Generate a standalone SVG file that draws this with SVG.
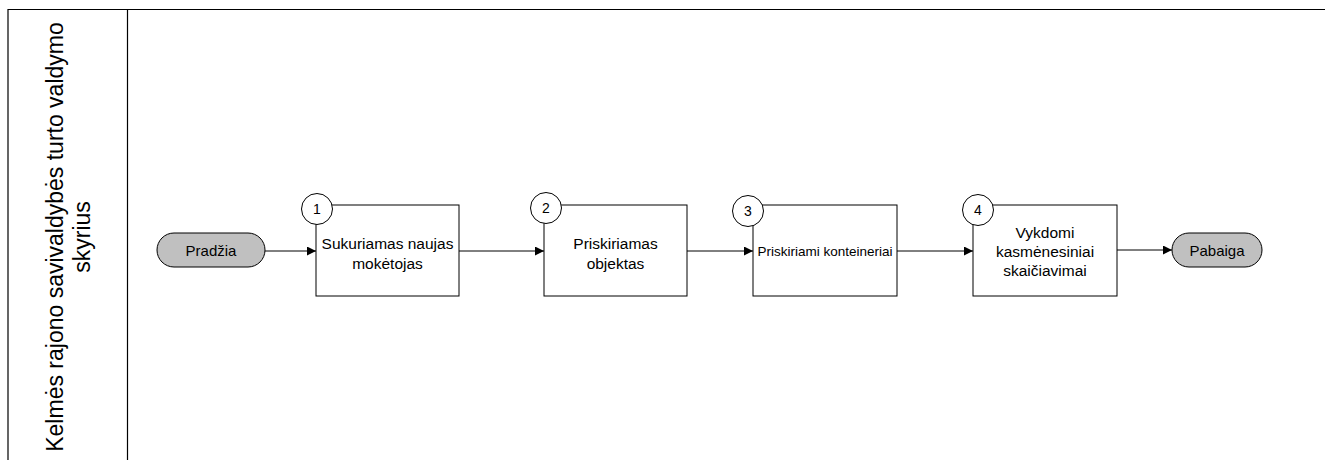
<svg xmlns="http://www.w3.org/2000/svg" width="1325" height="460" viewBox="0 0 1325 460">
<style>
.lane{fill:none;stroke:#000;stroke-width:1.2}
.box{fill:#fff;stroke:#000;stroke-width:1}
.term{fill:#c0c0c0;stroke:#000;stroke-width:1}
.num{fill:#fff;stroke:#000;stroke-width:1}
.t{font-family:"Liberation Sans",Arial,sans-serif;font-size:15.5px;fill:#000;text-anchor:middle}
.tt{font-family:"Liberation Sans",Arial,sans-serif;font-size:15px;fill:#000;text-anchor:middle}
.tn{font-family:"Liberation Sans",Arial,sans-serif;font-size:14px;fill:#000;text-anchor:middle}
.ts{font-family:"Liberation Sans",Arial,sans-serif;font-size:13.5px;fill:#000;text-anchor:middle}
.tl{font-family:"Liberation Sans",Arial,sans-serif;font-size:23px;fill:#000;text-anchor:middle}
.c{fill:none;stroke:#000;stroke-width:1;marker-end:url(#ah)}
</style>
<defs>
<marker id="ah" markerWidth="10" markerHeight="10" refX="9" refY="4.5" orient="auto" markerUnits="userSpaceOnUse">
<path d="M0,0 L9,4.5 L0,9 Z" fill="#000"/>
</marker>
</defs>
<rect width="1325" height="460" fill="#fff"/>
<g id="lane">
<path class="lane" d="M8,460 L8,9.5 L1325,9.5"/>
<line class="lane" x1="127.5" y1="9.5" x2="127.5" y2="460"/>
<text class="tl" transform="translate(63,237) rotate(-90)"><tspan x="0" y="0">Kelmės rajono savivaldybės turto valdymo</tspan><tspan x="0" y="27">skyrius</tspan></text>
</g>
<g id="connectors">
<line class="c" x1="265" y1="251" x2="316" y2="251"/>
<line class="c" x1="459" y1="251" x2="544" y2="251"/>
<line class="c" x1="687" y1="251" x2="753" y2="251"/>
<line class="c" x1="897" y1="251" x2="973" y2="251"/>
<line class="c" x1="1117" y1="250" x2="1172" y2="250"/>
</g>
<g id="start">
<rect class="term" x="157" y="233" width="108" height="34" rx="17"/>
<text class="tt" x="211" y="256">Pradžia</text>
</g>
<g id="task1">
<rect class="box" x="316" y="205" width="143" height="91"/>
<text class="t" x="387.5" y="249">Sukuriamas naujas</text>
<text class="t" x="387.5" y="269">mokėtojas</text>
<circle class="num" cx="317" cy="209" r="15.5"/>
<text class="tn" x="317" y="214">1</text>
</g>
<g id="task2">
<rect class="box" x="544" y="205" width="143" height="91"/>
<text class="t" x="615.5" y="249">Priskiriamas</text>
<text class="t" x="615.5" y="269">objektas</text>
<circle class="num" cx="546" cy="208" r="15.5"/>
<text class="tn" x="546" y="213">2</text>
</g>
<g id="task3">
<rect class="box" x="753" y="205" width="144" height="91"/>
<text class="ts" x="825" y="256">Priskiriami konteineriai</text>
<circle class="num" cx="748" cy="211" r="15.5"/>
<text class="tn" x="748" y="216">3</text>
</g>
<g id="task4">
<rect class="box" x="973" y="205" width="144" height="91"/>
<text class="t" x="1045" y="238">Vykdomi</text>
<text class="t" x="1045" y="257">kasmėnesiniai</text>
<text class="t" x="1045" y="276">skaičiavimai</text>
<circle class="num" cx="978" cy="210" r="15.5"/>
<text class="tn" x="978" y="215">4</text>
</g>
<g id="end">
<rect class="term" x="1172" y="233" width="90" height="34" rx="17"/>
<text class="tt" x="1217" y="256">Pabaiga</text>
</g>
</svg>
